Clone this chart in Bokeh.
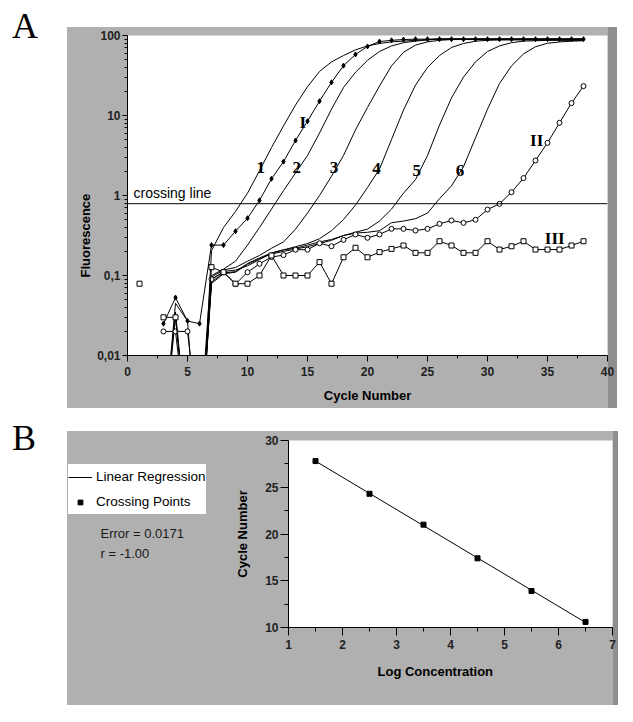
import numpy as np
from bokeh.plotting import figure
from bokeh.models import (Range1d, Span, FixedTicker, CustomJSTickFormatter, Div,
                          Spacer, Legend, LegendItem, Title)
from bokeh.layouts import column, row
from bokeh.embed import file_html
from bokeh.resources import INLINE
from bokeh.core.properties import value

NaN = float("nan")
GREY = "#b0b0b0"
EDGE = "#8e8e8e"
SANS = "Liberation Sans"

# ---------------- Panel A data (cycles 1..38) ----------------
cycles = list(range(1, 39))

curve_1 = [NaN, NaN, 0.001, 0.045, 0.027, 0.0003, 0.204, 0.398, 0.631, 1.07,
           2.04, 3.98, 7.41, 13.5, 22.9, 35.5, 46.8, 56.2, 66.1, 74.1,
           79.4, 83.2, 85.1, 87.1, 89, 91, 91, 91, 91, 91,
           91, 91, 91, 91, 91, 91, 91, 91]
curve_2 = [NaN, NaN, 0.001, 0.035, 0.001, 0.0005, 0.100, 0.120, 0.151, 0.240,
           0.398, 0.676, 1.15, 1.91, 3.16, 6.03, 12.0, 22.4, 34.7, 49.0,
           63.1, 74.1, 81.3, 85.1, 88, 90, 90, 90, 90, 90,
           90, 90, 90, 90, 90, 90, 90, 90]
curve_3 = [NaN, NaN, 0.001, 0.030, 0.001, 0.0005, 0.0955, 0.117, 0.126, 0.151,
           0.178, 0.219, 0.263, 0.380, 0.603, 1.00, 1.74, 3.16, 6.61, 12.6,
           23.4, 41.7, 61.7, 75.9, 83.2, 87.1, 89, 89, 89, 89,
           89, 89, 89, 89, 89, 89, 89, 89]
curve_4 = [NaN, NaN, NaN, 0.020, 0.001, 0.0005, 0.0891, 0.112, 0.117, 0.132,
           0.158, 0.191, 0.209, 0.229, 0.251, 0.288, 0.363, 0.501, 0.759, 1.26,
           2.14, 5.01, 11.7, 24.0, 39.8, 56.2, 70.8, 79.4, 85.0, 87,
           88, 88, 88, 88, 88, 88, 88, 88]
curve_5 = [NaN, NaN, NaN, NaN, NaN, 0.0005, 0.0832, 0.107, 0.112, 0.141,
           0.166, 0.191, 0.209, 0.219, 0.240, 0.263, 0.282, 0.316, 0.347, 0.380,
           0.479, 0.676, 1.07, 1.58, 3.16, 7.59, 16.6, 30.2, 46.8, 63.1,
           74.1, 81.3, 85.1, 86, 87, 87, 87, 87]
curve_6 = [NaN, NaN, NaN, NaN, NaN, 0.0005, 0.0794, 0.105, 0.110, 0.138,
           0.162, 0.186, 0.200, 0.214, 0.229, 0.251, 0.275, 0.316, 0.339, 0.347,
           0.363, 0.457, 0.479, 0.513, 0.603, 0.912, 1.32, 2.29, 5.25, 12.0,
           25.1, 41.7, 58.9, 72.4, 80.0, 83.0, 85.0, 86.0]
sample_I = [NaN, NaN, 0.025, 0.053, 0.027, 0.025, 0.24, 0.24, 0.358, 0.52,
            0.87, 1.62, 2.65, 4.87, 8.5, 15.1, 26.0, 42.0, 58.0, 73.0,
            84.0, 87.0, 89.0, 90, 90, 90, 90, 90, 90, 90,
            90, 90, 90, 90, 90, 90, 90, 90]
sample_II = [NaN, NaN, 0.02, 0.02, 0.02, 0.001, 0.09, 0.11, 0.078, 0.11,
             0.14, 0.17, 0.18, 0.21, 0.21, 0.253, 0.232, 0.279, 0.326, 0.296,
             0.326, 0.383, 0.383, 0.365, 0.383, 0.442, 0.487, 0.455, 0.497, 0.668,
             0.787, 1.10, 1.65, 2.74, 4.55, 8.1, 14.3, 23.3]
sample_III = [0.079, NaN, 0.03, 0.03, 0.001, 0.001, 0.127, 0.11, 0.079, 0.079,
              0.10, 0.178, 0.10, 0.10, 0.10, 0.147, 0.079, 0.169, 0.222, 0.169,
              0.196, 0.215, 0.237, 0.192, 0.192, 0.268, 0.237, 0.192, 0.192, 0.268,
              0.211, 0.232, 0.268, 0.211, 0.211, 0.211, 0.237, 0.268]

crossing_threshold = 0.79

curve_labels = ["1", "2", "3", "4", "5", "6", "I", "II", "III"]
curve_label_x = [11.1, 14.1, 17.2, 20.75, 24.1, 27.7, 14.6, 34.1, 35.6]
curve_label_y = [2.26, 2.26, 2.26, 2.16, 2.06, 2.06, 8.26, 4.87, 0.288]

x_ticks_A = [0, 5, 10, 15, 20, 25, 30, 35, 40]
x_minor_A = [2.5, 7.5, 12.5, 17.5, 22.5, 27.5, 32.5, 37.5]
y_ticks_A = [0.01, 0.1, 1, 10, 100]
y_minor_A = [m * d for d in (0.01, 0.1, 1, 10) for m in range(2, 10)]

# ---------------- Panel B data ----------------
log_conc = [1.5, 2.5, 3.5, 4.5, 5.5, 6.5]
crossing_points = [27.8, 24.3, 21.0, 17.4, 13.9, 10.6]
x_ticks_B = [1, 2, 3, 4, 5, 6, 7]
x_minor_B = [1.5, 2.5, 3.5, 4.5, 5.5, 6.5]
y_ticks_B = [10, 15, 20, 25, 30]
y_minor_B = [12.5, 17.5, 22.5, 27.5]
stats_text = ["Error = 0.0171", "r = -1.00"]


def style_axis(ax, size="12px"):
    ax.axis_line_color = "black"
    ax.axis_line_width = 1
    ax.major_tick_line_color = "black"
    ax.minor_tick_line_color = "black"
    ax.major_label_text_font = SANS
    ax.major_label_text_font_style = "bold"
    ax.major_label_text_font_size = size
    ax.major_label_text_color = "#222222"
    ax.axis_label_text_font = SANS
    ax.axis_label_text_font_style = "bold"
    ax.axis_label_text_font_size = "13px"
    ax.axis_label_text_color = "black"
    ax.major_tick_in = 0
    ax.minor_tick_in = 0


def side_title(text, offset, standoff):
    return Title(text=text, align="left", offset=offset, standoff=standoff,
                 text_font=SANS, text_font_style="bold", text_font_size="13px",
                 text_color="black")


# ---------------- Panel A figure ----------------
pA = figure(width=550, height=381, x_range=Range1d(0, 40), y_range=Range1d(0.01, 100),
            y_axis_type="log", output_backend="svg", toolbar_location=None,
            min_border_left=60, min_border_right=10, min_border_top=8, min_border_bottom=53,
            border_fill_color=None, background_fill_color="white", outline_line_color=None,
            styles={"background-color": GREY, "box-shadow": f"inset -9px 0 0 {EDGE}"})
pA.grid.visible = False

for ys in (curve_1, curve_2, curve_3, curve_4, curve_5, curve_6):
    pA.line(cycles, ys, line_color="black", line_width=1)
pA.line(cycles, sample_I, line_color="black", line_width=1)
pA.scatter(cycles, sample_I, marker="diamond", size=5, fill_color="black", line_color="black")
pA.line(cycles, sample_II, line_color="black", line_width=1)
pA.scatter(cycles, sample_II, marker="circle", size=5, fill_color="white", line_color="black")
pA.line(cycles, sample_III, line_color="black", line_width=1)
pA.scatter(cycles, sample_III, marker="square", size=5, fill_color="white", line_color="black")

pA.add_layout(Span(location=crossing_threshold, dimension="width", line_color="black", line_width=1))
pA.text(x=[0.5], y=[1.06], text=["crossing line"], text_font=value(SANS),
        text_font_size="14px", text_baseline="middle", text_align="left", text_color="black")
pA.text(x=curve_label_x, y=curve_label_y, text=curve_labels, text_font=value("Liberation Serif"),
        text_font_style="bold", text_font_size="17px", text_align="center",
        text_baseline="middle", text_color="black")

pA.xaxis.ticker = FixedTicker(ticks=x_ticks_A, minor_ticks=x_minor_A)
pA.yaxis.ticker = FixedTicker(ticks=y_ticks_A, minor_ticks=y_minor_A)
pA.yaxis.formatter = CustomJSTickFormatter(code="return tick.toString().replace('.', ',');")
pA.xaxis.axis_label = "Cycle Number"
for ax in (pA.xaxis[0], pA.yaxis[0]):
    style_axis(ax)
pA.xaxis.major_tick_out = 6
pA.xaxis.minor_tick_out = 3
pA.xaxis.major_label_standoff = 5
pA.xaxis.axis_label_standoff = 9
pA.yaxis.major_tick_out = 5
pA.yaxis.minor_tick_out = 3
pA.yaxis.major_label_standoff = 2
pA.add_layout(side_title("Fluorescence", 78, 4), "left")

# ---------------- Panel B: regression plot ----------------
slope, intercept = np.polyfit(log_conc, crossing_points, 1)
fit_x = [log_conc[0], log_conc[-1]]
fit_y = [slope * v + intercept for v in fit_x]

pB = figure(width=397, height=274, x_range=Range1d(1, 7), y_range=Range1d(10, 30),
            output_backend="svg", toolbar_location=None,
            min_border_left=67, min_border_right=6, min_border_top=9, min_border_bottom=78,
            border_fill_color=None, background_fill_color="white", outline_line_color=None,
            styles={"background-color": GREY, "box-shadow": f"inset -5px 0 0 {EDGE}"})
pB.grid.visible = False
pB.line(fit_x, fit_y, line_color="black", line_width=1)
pB.scatter(log_conc, crossing_points, marker="square", size=5, fill_color="black", line_color="black")
pB.xaxis.ticker = FixedTicker(ticks=x_ticks_B, minor_ticks=x_minor_B)
pB.yaxis.ticker = FixedTicker(ticks=y_ticks_B, minor_ticks=y_minor_B)
pB.yaxis.axis_label = "Cycle Number"
for ax in (pB.xaxis[0], pB.yaxis[0]):
    style_axis(ax)
pB.xaxis.major_tick_out = 8
pB.xaxis.minor_tick_out = 4
pB.xaxis.major_label_standoff = 4
pB.yaxis.major_tick_out = 8
pB.yaxis.minor_tick_out = 4
pB.yaxis.major_label_standoff = 2
pB.yaxis.axis_label_standoff = 12
pB.add_layout(side_title("Log Concentration", 89, 20), "below")

# ---------------- Panel B: legend + statistics (left part of the grey box) ----------------
pBL = figure(width=154, height=274, x_range=Range1d(0, 154), y_range=Range1d(0, 187),
             output_backend="svg", toolbar_location=None,
             min_border_left=0, min_border_right=0, min_border_top=9, min_border_bottom=78,
             border_fill_color=None, background_fill_color=None, outline_line_color=None,
             styles={"background-color": GREY})
pBL.axis.visible = False
pBL.grid.visible = False
# legend entries reuse the regression data; shifted off this frame so only the legend shows them
leg_line = pBL.line([v - 100 for v in fit_x], fit_y, line_color="black", line_width=1)
leg_pts = pBL.scatter([v - 100 for v in log_conc], crossing_points, marker="square", size=5,
                      fill_color="black", line_color="black")
legend = Legend(items=[LegendItem(label="Linear Regression", renderers=[leg_line]),
                       LegendItem(label="Crossing Points", renderers=[leg_pts])],
                location=(1, 113), background_fill_color="white", background_fill_alpha=1,
                border_line_color=None, padding=8, spacing=0, label_height=25, glyph_height=12,
                glyph_width=24, label_standoff=4, label_text_font=SANS,
                label_text_font_size="13.5px", label_text_color="black", margin=0)
pBL.add_layout(legend, "center")
pBL.text(x=[33, 33], y=[94, 74], text=stats_text, text_font=value(SANS),
         text_font_size="13px", text_baseline="middle", text_align="left", text_color="#1a1a1a")

letter_style = {"font-family": "Liberation Serif", "font-size": "36px", "line-height": "26px",
                "padding-left": "12px", "color": "black"}
divA = Div(text="A", width=67, height=395, margin=0, styles=letter_style)
divB = Div(text="B", width=67, height=280, margin=0, styles=letter_style)

layout = column(Spacer(width=10, height=13, margin=0),
                row(divA, column(Spacer(width=10, height=14, margin=0), pA, spacing=0), spacing=0),
                Spacer(width=10, height=17, margin=0),
                row(divB, column(Spacer(width=10, height=6, margin=0),
                                 row(pBL, pB, spacing=0), spacing=0), spacing=0),
                spacing=0)

open("out.html", "w").write(file_html(layout, INLINE))
